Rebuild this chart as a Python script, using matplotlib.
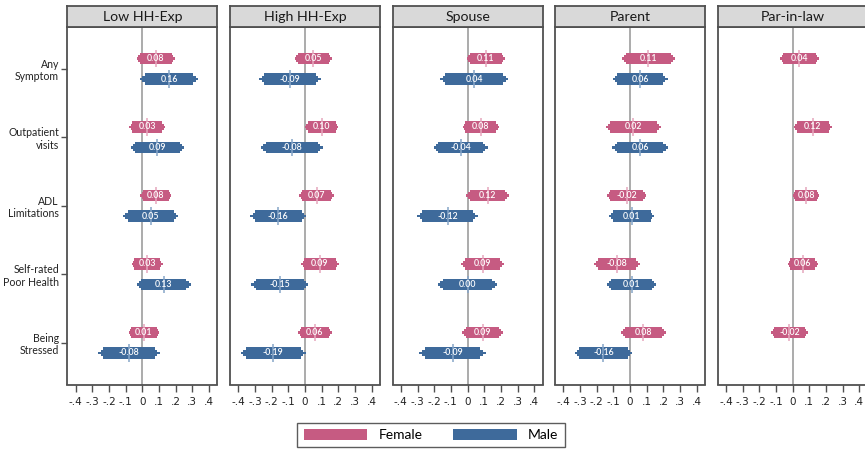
import numpy as np
import matplotlib
matplotlib.use("Agg")
import matplotlib.pyplot as plt
from matplotlib.patches import Patch

plt.rcParams['font.family'] = ['Lato', 'DejaVu Sans']

# outcomes (rows) and subgroups (panels)
outcomes = ["Any\nSymptom", "Outpatient\nvisits", "ADL\nLimitations",
            "Self-rated\nPoor Health", "Being\nStressed"]
panels = ["Low HH-Exp", "High HH-Exp", "Spouse", "Parent", "Par-in-law"]

# point estimates, one list per panel (rows in outcome order)
female_est = [
    [0.08, 0.03, 0.08, 0.03, 0.01],
    [0.05, 0.10, 0.07, 0.09, 0.06],
    [0.11, 0.08, 0.12, 0.09, 0.09],
    [0.11, 0.02, -0.02, -0.08, 0.08],
    [0.04, 0.12, 0.08, 0.06, -0.02],
]
male_est = [
    [0.16, 0.09, 0.05, 0.13, -0.08],
    [-0.09, -0.08, -0.16, -0.15, -0.19],
    [0.04, -0.04, -0.12, 0.00, -0.09],
    [0.06, 0.06, 0.01, 0.01, -0.16],
    [None, None, None, None, None],
]
# standard errors
female_se = [
    [0.058, 0.055, 0.047, 0.047, 0.047],
    [0.056, 0.051, 0.053, 0.058, 0.051],
    [0.058, 0.056, 0.065, 0.065, 0.062],
    [0.082, 0.085, 0.060, 0.070, 0.068],
    [0.059, 0.058, 0.040, 0.046, 0.056],
]
male_se = [
    [0.089, 0.081, 0.084, 0.082, 0.094],
    [0.094, 0.095, 0.085, 0.087, 0.100],
    [0.105, 0.082, 0.093, 0.091, 0.102],
    [0.084, 0.085, 0.069, 0.075, 0.088],
    [None, None, None, None, None],
]

xticks = [-0.4, -0.3, -0.2, -0.1, 0, 0.1, 0.2, 0.3, 0.4]
xticklabels = ["-.4", "-.3", "-.2", "-.1", "0", ".1", ".2", ".3", ".4"]

FEMALE = "#c65b82"
FEMALE_LT = "#e6a7bd"
MALE = "#3e6a9b"
MALE_LT = "#86a5c8"
FRAME = "#505050"

W, H = 865, 450
fig = plt.figure(figsize=(W / 100, H / 100), dpi=100)

left0, step, pw = 67.3, 162.6, 150.0
top, bottom, head_top = 27.0, 384.5, 5.5
ypos = np.arange(1, len(outcomes) + 1)
off = 0.15


def draw_ci(ax, y, est, se, color, light):
    # 90% thick, intermediate step, 95% thin
    for z, h in [(1.96, 0.035), (1.80, 0.09), (1.645, 0.165)]:
        ax.barh(y, 2 * z * se, left=est - z * se, height=h, color=color,
                edgecolor="none", zorder=3)
    ax.vlines(est, y - 0.13, y + 0.13, color=light, lw=1.1, zorder=4)
    ax.text(est, y, f"{est:.2f}", color="white", fontsize=6.3,
            fontweight="semibold", ha="center", va="center", zorder=5)


for i, name in enumerate(panels):
    x0 = left0 + step * i
    ax = fig.add_axes([x0 / W, (H - bottom) / H, pw / W, (bottom - top) / H])
    ax.set_xlim(-0.45, 0.45)
    ax.set_ylim(5.61, 0.39)
    ax.axvline(0, color="#ababab", lw=1.4, zorder=1)

    for r in range(len(outcomes)):
        if female_est[i][r] is not None:
            draw_ci(ax, ypos[r] - off, female_est[i][r], female_se[i][r],
                    FEMALE, FEMALE_LT)
        if male_est[i][r] is not None:
            draw_ci(ax, ypos[r] + off, male_est[i][r], male_se[i][r],
                    MALE, MALE_LT)

    ax.set_xticks(xticks)
    ax.set_xticklabels(xticklabels, fontsize=7.5, family="DejaVu Sans",
                       color="#222222")
    ax.tick_params(axis="x", length=5, width=1, color=FRAME, pad=4)
    if i == 0:
        ax.set_yticks(ypos)
        ax.set_yticklabels(outcomes, fontsize=7.6, ha="right",
                           linespacing=1.15, color="#222222")
        ax.tick_params(axis="y", length=4, width=1, color=FRAME, pad=2)
    else:
        ax.set_yticks([])
    for s in ax.spines.values():
        s.set_color(FRAME)
        s.set_linewidth(1.3)

    # title strip
    hx = fig.add_axes([x0 / W, (H - top) / H, pw / W, (top - head_top) / H])
    hx.set_facecolor("#d9d9d9")
    hx.set_xticks([])
    hx.set_yticks([])
    for s in hx.spines.values():
        s.set_color(FRAME)
        s.set_linewidth(1.3)
    hx.text(0.5, 0.45, name, ha="center", va="center", fontsize=10.2,
            color="#1a1a1a", transform=hx.transAxes)

handles = [Patch(facecolor=FEMALE, edgecolor="none", label="Female"),
           Patch(facecolor=MALE, edgecolor="none", label="Male")]
leg = fig.legend(handles=handles, loc="center", ncol=2,
                 bbox_to_anchor=(431 / W, (H - 435) / H),
                 fontsize=10, frameon=True, fancybox=False,
                 handlelength=4.6, handleheight=0.85, columnspacing=2.2,
                 handletextpad=0.8, borderpad=0.45)
leg.get_frame().set_edgecolor("#333333")
leg.get_frame().set_linewidth(1.0)

fig.savefig("out.png", dpi=100)
